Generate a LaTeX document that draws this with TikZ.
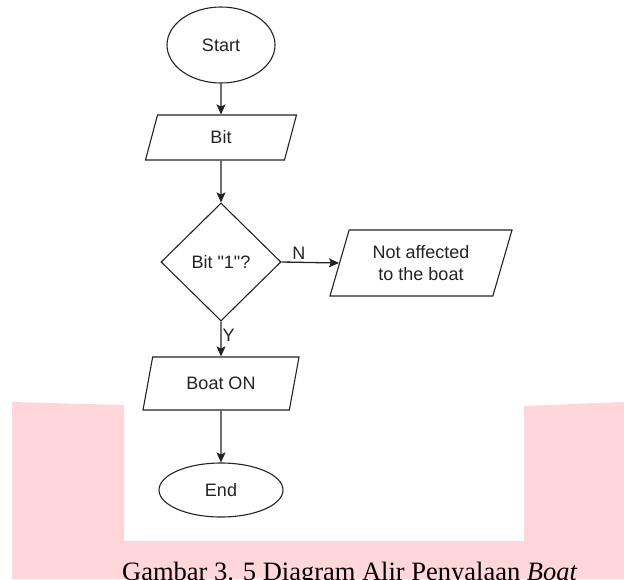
\documentclass[tikz,border=0pt]{standalone}
\usepackage{fontspec}
\setmainfont{Liberation Sans}[Ligatures=TeXOff]
\newfontfamily\capfont{Liberation Serif}
\usetikzlibrary{shapes.geometric,arrows.meta}
\definecolor{pinkbg}{RGB}{255,214,218}
\definecolor{ink}{RGB}{35,35,35}
\tikzset{
  base/.style={draw=ink, line width=1.1pt, text=ink, font=\fontsize{18}{22}\selectfont, inner sep=2pt},
  term/.style={base, ellipse},
  io/.style={base, trapezium, trapezium stretches body=true, align=center},
  dec/.style={base, diamond},
  arr/.style={draw=ink, line width=1.3pt, -{Stealth[length=10pt,width=9pt,inset=2pt]}},
  lbl/.style={text=ink, font=\fontsize{18}{22}\selectfont, inner sep=2pt}
}
\begin{document}
\begin{tikzpicture}[x=1pt,y=-1pt]
\useasboundingbox (0,0) rectangle (624,579);
% pink background frame
\fill[pinkbg] (12,402) -- (124,405) -- (124,541) -- (524,541) -- (524,406) -- (624,402) -- (624,579) -- (12,579) -- cycle;
% nodes
\node[term, minimum width=108pt, minimum height=76pt] (start) at (221,45) {Start};
\node[io, minimum width=151pt, minimum height=45pt, trapezium left angle=55, trapezium right angle=125] (bit) at (221,137.5) {Bit};
\node[dec, minimum width=120pt, minimum height=118pt] (dec) at (221,262) {Bit "1"?};
\node[io, minimum width=182pt, minimum height=66pt, trapezium left angle=64, trapezium right angle=116] (na) at (421,263) {Not affected\\to the boat};
\node[io, minimum width=156pt, minimum height=53pt, trapezium left angle=60, trapezium right angle=120] (boat) at (221,383.5) {Boat ON};
\node[term, minimum width=124pt, minimum height=54pt] (end) at (221,490) {End};
% connectors
\draw[arr] (start.south) -- (bit.north);
\draw[arr] (bit.south) -- (dec.north);
\draw[arr] (dec.east) -- node[lbl, above, pos=0.3] {N} (na.west);
\draw[arr] (dec.south) -- node[lbl, right, pos=0.4, inner sep=1pt] {Y} (boat.north);
\draw[arr] (boat.south) -- (end.north);
% caption
\node[anchor=base west, inner sep=0pt, font=\capfont\fontsize{26.5}{30}\selectfont, text=black] (cap) at (122,580) {Gambar 3. 5 Diagram Alir Penyalaan \textit{Boat}};
\end{tikzpicture}
\end{document}
